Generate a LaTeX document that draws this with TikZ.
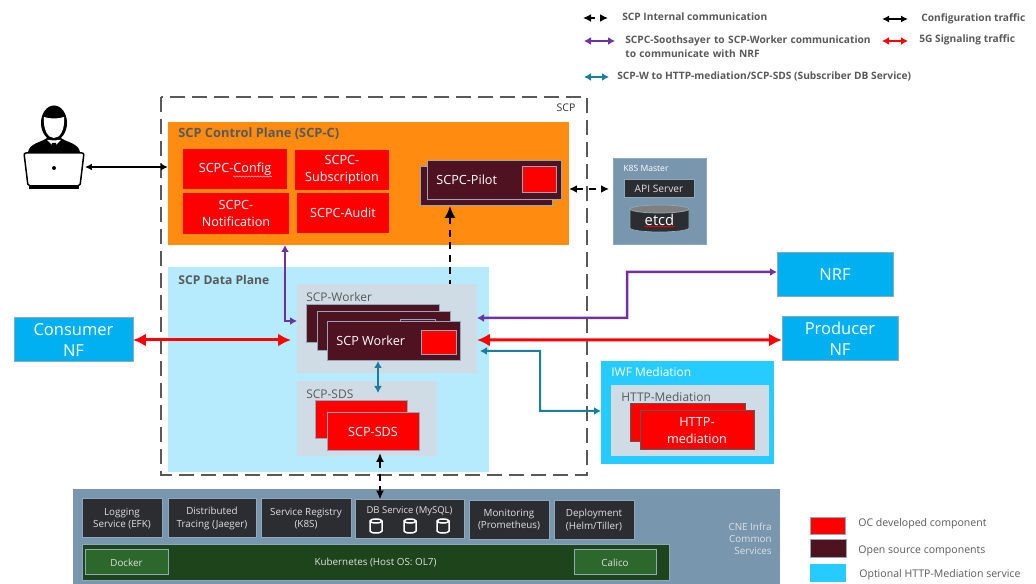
\documentclass[tikz,border=0pt]{standalone}
\usepackage{fontspec}
\setmainfont{Open Sans}
\usepackage{tikz}
\usetikzlibrary{arrows.meta,decorations.pathmorphing}
\definecolor{scpgrey}{HTML}{595959}
\definecolor{planeorange}{HTML}{FF8C11}
\definecolor{planeblue}{HTML}{B5EBFD}
\definecolor{iwfblue}{HTML}{26CCFF}
\definecolor{nfblue}{HTML}{00B0F0}
\definecolor{podgrey}{HTML}{CFDCE5}
\definecolor{ossmaroon}{HTML}{4F1220}
\definecolor{edgeblue}{HTML}{8FA8BA}
\definecolor{infrablue}{HTML}{7896AD}
\definecolor{svcdark}{HTML}{2C2D30}
\definecolor{kubegreen}{HTML}{1E441C}
\definecolor{dockgreen}{HTML}{2C672C}
\definecolor{purpleline}{HTML}{7030A0}
\definecolor{tealline}{HTML}{1A7F9F}
\tikzset{
	wh/.style 2 args={minimum width=#1*0.02cm,minimum height=#2*0.02cm},
	base/.style={inner sep=0pt,outer sep=0pt,align=center,line width=0.02cm},
	redbox/.style={base,fill=red,text=white,font=\fontsize{7.2}{9.4}\selectfont},
	stackbox/.style={base,fill=red,draw=edgeblue},
	ossbox/.style={base,fill=ossmaroon,draw=edgeblue,text=white,font=\fontsize{7.2}{9}\selectfont},
	greybox/.style={base,fill=podgrey},
	nfbox/.style={base,fill=nfblue,draw=edgeblue,text=white,font=\fontsize{9.4}{12}\selectfont},
	svcbox/.style={base,fill=svcdark,draw=edgeblue,text=white!88!black,font=\fontsize{5.6}{7}\selectfont},
	dockbox/.style={base,fill=dockgreen,draw=edgeblue,text=white!88!black,font=\fontsize{5.6}{7}\selectfont},
	title/.style={inner sep=0pt,anchor=west,text=scpgrey,font=\bfseries\fontsize{6.9}{8}\selectfont},
	podtitle/.style={inner sep=0pt,anchor=west,text=scpgrey,font=\fontsize{6.8}{8}\selectfont},
	legend/.style={inner sep=0pt,anchor=west,align=left,text=scpgrey,font=\bfseries\fontsize{5.8}{8}\selectfont},
	keytext/.style={inner sep=0pt,anchor=west,text=scpgrey,font=\fontsize{6}{7}\selectfont},
	squigline/.style={line width=0.012cm,decorate,decoration={snake,amplitude=0.012cm,segment length=0.06cm}},
	cfgline/.style={line width=0.035cm,black,{Latex[length=0.14cm,width=0.14cm]}-{Latex[length=0.14cm,width=0.14cm]}},
	intline/.style={line width=0.035cm,black,dash pattern=on 0.14cm off 0.11cm,{Latex[length=0.16cm,width=0.16cm]}-{Latex[length=0.16cm,width=0.16cm]}},
	sigline/.style={line width=0.06cm,red,{Latex[length=0.26cm,width=0.26cm]}-{Latex[length=0.26cm,width=0.26cm]}},
	nrfline/.style={line width=0.05cm,purpleline,{Latex[length=0.14cm,width=0.16cm]}-{Latex[length=0.14cm,width=0.16cm]}},
	dbline/.style={line width=0.04cm,tealline,{Latex[length=0.14cm,width=0.16cm]}-{Latex[length=0.14cm,width=0.16cm]}}
}
\begin{document}
\begin{tikzpicture}[x=0.02cm,y=-0.02cm]
	\useasboundingbox (0,0) rectangle (1036,584);

	\draw[scpgrey,line width=0.055cm,dash pattern=on 0.3cm off 0.14cm] (161,97) rectangle (587,475);
	\node (scp) [inner sep=0pt,text=black!80,font=\fontsize{6}{8}\selectfont] at (566,108) {SCP};

	\node (ctrl) [base,fill=planeorange,wh={401}{123}] at (368.5,183.5) {};
	\node (ctrltitle) [title,font=\bfseries\fontsize{7.3}{8}\selectfont] at (178,134) {SCP Control Plane (SCP-C)};
	\node (config) [redbox,wh={104}{40}] at (235,169) {SCPC-Config};
	\draw[squigline,white!75!red] ([xshift=-0.04cm,yshift=-0.15cm]config.center) -- ([xshift=0.74cm,yshift=-0.15cm]config.center);
	\node (subscr) [redbox,wh={94}{40}] at (342,170) {SCPC-\\Subscription};
	\node (notif) [redbox,wh={106}{41}] at (236,213.5) {SCPC-\\Notification};
	\node (audit) [redbox,wh={92}{40}] at (343,213) {SCPC-Audit};
	\node (pilotback) [base,fill=ossmaroon,draw=edgeblue,wh={132}{39}] at (486,186.5) {};
	\node (pilot) [ossbox,wh={134}{39}] at (494,180.5) {};
	\node (pilotname) [inner sep=0pt,anchor=west,text=white,font=\fontsize{7.2}{9}\selectfont] at (436,180) {SCPC-Pilot};
	\node (pilotkey) [stackbox,wh={34}{26}] at (539,180) {};

	\node (master) [base,fill=infrablue,draw=edgeblue,wh={93}{86}] at (659.5,202) {};
	\node (mastertitle) [inner sep=0pt,anchor=west,text=white,font=\fontsize{4.9}{6}\selectfont] at (623,168) {K8S Master};
	\node (api) [svcbox,wh={70}{18},font=\fontsize{5.8}{7}\selectfont] at (659,189) {API Server};
	\draw[fill=svcdark,draw=edgeblue] (630,209) -- (630,228) arc[start angle=180,end angle=0,x radius=29.5,y radius=4] -- (689,209) -- cycle;
	\draw[fill=gray,draw=edgeblue] (659.5,209) ellipse[x radius=29.5,y radius=4];
	\node (etcd) [inner sep=0pt,text=white,font=\fontsize{8.4}{9}\selectfont] at (659.5,220) {etcd};
	\draw[squigline,red] ([yshift=-0.01cm]etcd.south west) -- ([yshift=-0.01cm]etcd.south east);

	\node (data) [base,fill=planeblue,wh={321}{205}] at (328.5,369.5) {};
	\node (datatitle) [title] at (178,280) {SCP Data Plane};

	\node (workergrp) [greybox,wh={180}{89}] at (387,328.5) {};
	\node (workertitle) [podtitle] at (306,297) {SCP-Worker};
	\node (workerc) [ossbox,wh={133}{38}] at (372.5,324) {};
	\node (workerb) [ossbox,wh={133}{39}] at (383.5,331.5) {};
	\node (workerbkey) [ossbox,wh={35}{24}] at (418,332) {};
	\node (worker) [ossbox,wh={133}{39}] at (393.5,341.5) {};
	\node (workername) [inner sep=0pt,anchor=west,text=white,font=\fontsize{7.2}{9}\selectfont] at (336,341) {SCP Worker};
	\node (workerkey) [stackbox,wh={35}{24}] at (438.5,343) {};

	\node (sdsgrp) [greybox,wh={140}{75}] at (367,418.5) {};
	\node (sdstitle) [podtitle] at (306,394) {SCP-SDS};
	\node (sdsb) [stackbox,wh={92}{38}] at (361,420) {};
	\node (sds) [redbox,draw=edgeblue,wh={92}{38}] at (373,432) {SCP-SDS};

	\node (consumer) [nfbox,wh={119}{44}] at (73.5,340) {Consumer\\NF};
	\node (nrf) [nfbox,wh={116}{44}] at (835,275) {NRF};
	\node (producer) [nfbox,wh={116}{44}] at (840,339) {Producer\\NF};

	\node (iwf) [base,fill=iwfblue,wh={173}{103}] at (687.5,412.5) {};
	\node (iwftitle) [inner sep=0pt,anchor=west,text=white,font=\fontsize{6.8}{8}\selectfont] at (611,372) {IWF Mediation};
	\node (httpgrp) [greybox,wh={158}{71}] at (690,420.5) {};
	\node (httptitle) [podtitle] at (621,397) {HTTP-Mediation};
	\node (httpb) [base,fill=red,draw=scpgrey,wh={115}{38}] at (687.5,423) {};
	\node (http) [redbox,draw=scpgrey,wh={114}{39}] at (697,430.5) {HTTP-\\mediation};

	\node (infra) [base,fill=infrablue,wh={707}{95}] at (426.5,536.5) {};
	\node (logging) [svcbox,wh={80}{39}] at (122,518.5) {Logging\\Service (EFK)};
	\node (tracing) [svcbox,wh={88}{39}] at (212,518.5) {Distributed\\Tracing (Jaeger)};
	\node (registry) [svcbox,wh={90}{39}] at (306,518.5) {Service Registry\\(K8S)};
	\node (dbsvc) [svcbox,wh={109}{39}] at (409.5,519) {};
	\node (dbtitle) [inner sep=0pt,text=white!88!black,font=\fontsize{5.4}{7}\selectfont] at (409.5,511) {DB Service (MySQL)};
	\foreach \dbx in {376,410,443}{
		\draw[white,fill=svcdark,line width=0.03cm] (\dbx-6,521) -- (\dbx-6,531) arc[start angle=180,end angle=0,x radius=6,y radius=2] -- (\dbx+6,521) arc[start angle=0,end angle=-180,x radius=6,y radius=2] -- cycle;
		\draw[white,line width=0.03cm] (\dbx-6,521) arc[start angle=180,end angle=0,x radius=6,y radius=2];
	}
	\node (monitor) [svcbox,wh={80}{39}] at (509,520) {Monitoring\\(Prometheus)};
	\node (deploy) [svcbox,wh={80}{39}] at (594,520) {Deployment\\(Helm/Tiller)};
	\node (kube) [base,fill=kubegreen,draw=edgeblue,text=white!88!black,font=\fontsize{5.6}{7}\selectfont,wh={587}{36}] at (375.5,563) {Kubernetes (Host OS: OL7)};
	\node (docker) [dockbox,wh={83}{25}] at (126.5,562.5) {Docker};
	\node (calico) [dockbox,wh={82}{25}] at (615,562.5) {Calico};
	\node (cne) [inner sep=0pt,anchor=east,align=right,text=white!88!black,font=\fontsize{5.6}{6.9}\selectfont] at (772,539) {CNE Infra\\Common\\Services};

	\node (keyoc) [base,fill=red,draw=edgeblue,wh={35}{17}] at (827.5,526.5) {};
	\node (keyoss) [base,fill=ossmaroon,draw=edgeblue,wh={36}{18}] at (828,549) {};
	\node (keyopt) [base,fill=iwfblue,wh={36}{18}] at (828,573) {};
	\node (keyoctext) [keytext] at (858,524) {OC developed component};
	\node (keyosstext) [keytext] at (858,551) {Open source components};
	\node (keyopttext) [keytext] at (859,575) {Optional HTTP-Mediation service};

	\node (lgint) [legend] at (622,17) {SCP Internal communication};
	\node (lgcfg) [legend] at (921,19) {Configuration traffic};
	\node (lgnrf) [legend,text width=265*0.02cm] at (625,47) {SCPC-Soothsayer to SCP-Worker communication\\to communicate with NRF};
	\node (lgsig) [legend] at (919,40) {5G Signaling traffic};
	\node (lgdb) [legend] at (617,76) {SCP-W to HTTP-mediation/SCP-SDS (Subscriber DB Service)};
	\coordinate (intL) at (583,18);
	\coordinate (intR) at (608,18);
	\coordinate (cfgL) at (882,19);
	\coordinate (cfgR) at (908,19);
	\coordinate (nrfL) at (584,41);
	\coordinate (nrfR) at (615,41);
	\coordinate (sigL) at (882,41);
	\coordinate (sigR) at (908,41);
	\coordinate (dbL) at (584,77);
	\coordinate (dbR) at (609,77);
	\draw[intline,dash pattern=on 0.1cm off 0.1cm] (intL) -- (intR);
	\draw[cfgline] (cfgL) -- (cfgR);
	\draw[nrfline] (nrfL) -- (nrfR);
	\draw[sigline,{Latex[length=0.14cm,width=0.16cm]}-{Latex[length=0.14cm,width=0.16cm]},line width=0.04cm] (sigL) -- (sigR);
	\draw[dbline] (dbL) -- (dbR);

	\fill[black] (29,189) rectangle (79,186.5);
	\fill[black] (28,152) .. controls (30,143) and (40,143) .. (47,138) -- (61,138) .. controls (68,143) and (78,143) .. (80,152) -- cycle;
	\fill[white] (47,140) -- (61,140) -- (54,147) -- cycle;
	\fill[black] (52,143) -- (56,143) -- (58,152) -- (50,152) -- cycle;
	\fill[black] (54,123) ellipse[x radius=13,y radius=17.5];
	\fill[white] (44,117) .. controls (50,119) and (58,119) .. (64,117) .. controls (65,130) and (60,138) .. (54,138) .. controls (48,138) and (43,130) .. (44,117) -- cycle;
	\draw[black,fill=white,line width=0.03cm,rounded corners=0.04cm] (24,153) -- (84,153) -- (80,186) -- (28,186) -- cycle;
	\fill[black] (54,168) circle[radius=2];
	\node (laptop) [base,wh={62}{2}] at (54,167) {};

	\draw[cfgline] (laptop.east) -- (ctrl.west |- laptop.east);
	\draw[intline] ([xshift=0.16cm]pilot.east |- 0,189) -- ([xshift=-0.08cm]master.west |- 0,189);
	\draw[nrfline] (ctrl.south -| 285,0) -- (285,321) -- (workergrp.west |- 0,321);
	\draw[intline,{Latex[length=0.24cm,width=0.22cm]}-] (pilotback.south -| 450,0) -- (workergrp.north -| 450,0);
	\draw[sigline] (consumer.east) -- ([xshift=-0.12cm]workergrp.west |- consumer.east);
	\draw[sigline] ([yshift=-0.23cm]workergrp.east) -- (producer.west |- 0,340);
	\draw[nrfline] ([yshift=0.21cm]workergrp.east) -- (627,318) -- (627,272) -- (nrf.west |- 0,272);
	\draw[dbline] ([yshift=-0.45cm,xshift=0.06cm]workergrp.east) -- (540,351) -- (540,411) -- (iwf.west |- 0,411);
	\draw[dbline] (worker.south -| 378,0) -- (378,393);
	\draw[intline,{Latex[length=0.18cm,width=0.16cm]}-{Latex[length=0.18cm,width=0.16cm]}] ([yshift=0.06cm]sdsgrp.south -| 380,0) -- (dbsvc.north -| 380,0);
\end{tikzpicture}
\end{document}
